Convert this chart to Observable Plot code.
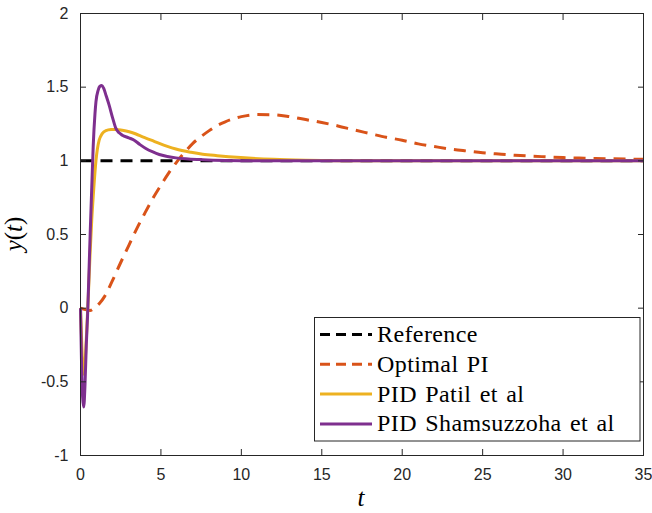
<!DOCTYPE html>
<html>
<head>
<meta charset="utf-8">
<script src="https://cdn.jsdelivr.net/npm/d3@7"></script>
<script src="https://cdn.jsdelivr.net/npm/@observablehq/plot@0.6"></script>
<style>
  html, body { margin: 0; padding: 0; background: #fff; }
  #wrap { position: relative; width: 652px; height: 513px; }
  #wrap > svg { display: block; }
</style>
</head>
<body>
<div id="wrap"></div>
<script>
// ---- data ----
const xTicks = [0, 5, 10, 15, 20, 25, 30, 35];
const yTicks = [-1, -0.5, 0, 0.5, 1, 1.5, 2];

const seriesNames = ["Reference", "Optimal PI", "PID Patil et al", "PID Shamsuzzoha et al"];

const tRef = [0, 35];
const yRef = [1, 1];

const tOpt = [0,0.3,0.6,0.9,1.2,1.5,2,2.5,3,3.5,4,4.5,5,5.5,6,6.5,7,7.5,8,8.5,9,9.5,10,11,12,13,14,15,16,17,18,19,20,21,22,23,24,25,26,27,28,29,30,31,32,33,34,35];
const yOpt = [0,-0.01,-0.015,0.005,0.035,0.08,0.19,0.31,0.425,0.54,0.645,0.745,0.835,0.92,0.995,1.06,1.12,1.165,1.205,1.24,1.265,1.285,1.30,1.314,1.313,1.30,1.28,1.26,1.237,1.21,1.185,1.16,1.14,1.115,1.097,1.08,1.067,1.055,1.046,1.038,1.032,1.027,1.022,1.019,1.016,1.014,1.012,1.01];

const tPat = [0,0.08,0.16,0.23,0.32,0.4,0.5,0.6,0.7,0.83,0.96,1.05,1.16,1.35,1.58,1.9,2.2,2.6,3.03,3.45,3.86,4.4,4.9,5.4,5.93,6.87,7.6,8.5,9.96,12,14,16,20,25,30,35];
const yPat = [0,-0.25,-0.42,-0.45,-0.3,-0.12,0.12,0.38,0.6,0.82,1.0,1.08,1.14,1.185,1.205,1.212,1.213,1.207,1.197,1.182,1.163,1.14,1.118,1.098,1.08,1.058,1.045,1.035,1.022,1.01,1.004,1.001,1.0,1.0,1.0,1.0];

const tSh = [0,0.06,0.13,0.2,0.28,0.36,0.44,0.5,0.6,0.7,0.79,0.9,0.96,1.1,1.2,1.33,1.45,1.6,1.78,2.0,2.2,2.4,2.6,3.0,3.34,3.7,4.06,4.5,4.9,5.4,5.93,6.7,7.6,9,11,15,20,25,30,35];
const ySh = [0,-0.35,-0.6,-0.67,-0.52,-0.25,-0.05,0.15,0.5,0.82,1.1,1.32,1.40,1.48,1.505,1.512,1.49,1.44,1.378,1.29,1.22,1.19,1.174,1.156,1.14,1.11,1.084,1.06,1.043,1.03,1.02,1.013,1.008,1.003,1.0,1.0,1.0,1.0,1.0,1.0];

// ---- styles ----
const seriesColors = ["#000000", "#D95319", "#EDB120", "#7E2F8E"];
const seriesDash = ["12,8", "12,8", null, null];
const lineW = 3;
const axisColor = "#262626";

const zip = (ts, ys) => ts.map((t, i) => ({t, y: ys[i]}));
const seriesData = [zip(tRef, yRef), zip(tOpt, yOpt), zip(tPat, yPat), zip(tSh, ySh)];

const lineMarks = seriesData.map((d, i) => Plot.line(d, {
  x: "t", y: "y",
  stroke: seriesColors[i],
  strokeWidth: lineW,
  strokeDasharray: seriesDash[i] || undefined,
  strokeLinecap: "butt",
  curve: "monotone-x"
}));

const fmt = d => String(d);

const chart = Plot.plot({
  width: 652,
  height: 513,
  marginLeft: 80,
  marginRight: 9,
  marginTop: 13,
  marginBottom: 58,
  style: {
    fontFamily: "'Liberation Sans', Arial, Helvetica, sans-serif",
    fontSize: "16px",
    color: axisColor,
    background: "#fff",
    overflow: "visible"
  },
  x: {domain: [0, 35]},
  y: {domain: [-1, 2]},
  marks: [
    ...lineMarks,
    Plot.frame({stroke: axisColor, strokeWidth: 1}),
    Plot.axisX(xTicks, {anchor: "bottom", tickSize: 0, tickPadding: 13, tickFormat: fmt, label: null}),
    Plot.axisX(xTicks, {anchor: "bottom", tickSize: -6, fill: "none", label: null}),
    Plot.axisX(xTicks, {anchor: "top", tickSize: -6, fill: "none", label: null}),
    Plot.axisY(yTicks, {anchor: "left", tickSize: 0, tickPadding: 12, tickFormat: fmt, label: null}),
    Plot.axisY(yTicks, {anchor: "left", tickSize: -6, fill: "none", label: null}),
    Plot.axisY(yTicks, {anchor: "right", tickSize: -6, fill: "none", label: null})
  ]
});

const wrap = document.getElementById("wrap");
wrap.appendChild(chart);

// ---- overlay: axis labels and legend ----
const ov = d3.select(wrap).append("svg")
  .attr("width", 652).attr("height", 513)
  .style("position", "absolute").style("left", "0px").style("top", "0px");

const serif = "'Liberation Serif', 'Times New Roman', serif";

// x label
ov.append("text")
  .attr("x", 361).attr("y", 506)
  .attr("text-anchor", "middle")
  .style("font-family", serif).style("font-size", "25px").style("font-style", "italic")
  .attr("fill", "#000")
  .text("t");

// y label
const yl = ov.append("text")
  .attr("transform", "translate(22,234) rotate(-90)")
  .attr("text-anchor", "middle")
  .style("font-family", serif).style("font-size", "25px")
  .attr("fill", "#000");
yl.append("tspan").style("font-style", "italic").text("y");
yl.append("tspan").text("(");
yl.append("tspan").style("font-style", "italic").text("t");
yl.append("tspan").text(")");

// legend
const lg = ov.append("g");
lg.append("rect")
  .attr("x", 314.5).attr("y", 317.5)
  .attr("width", 325.5).attr("height", 123.5)
  .attr("fill", "#fff").attr("stroke", axisColor).attr("stroke-width", 1);

seriesNames.forEach((name, i) => {
  const cy = 334.5 + i * 29.8;
  lg.append("line")
    .attr("x1", 320).attr("x2", 372).attr("y1", cy).attr("y2", cy)
    .attr("stroke", seriesColors[i]).attr("stroke-width", lineW)
    .attr("stroke-dasharray", seriesDash[i] ? "10,6" : null);
  lg.append("text")
    .attr("x", 377).attr("y", cy + 7.5)
    .style("font-family", serif).style("font-size", "24px")
    .style("letter-spacing", "0.4px").style("word-spacing", "2px")
    .attr("fill", "#000")
    .text(name);
});
</script>
</body>
</html>
